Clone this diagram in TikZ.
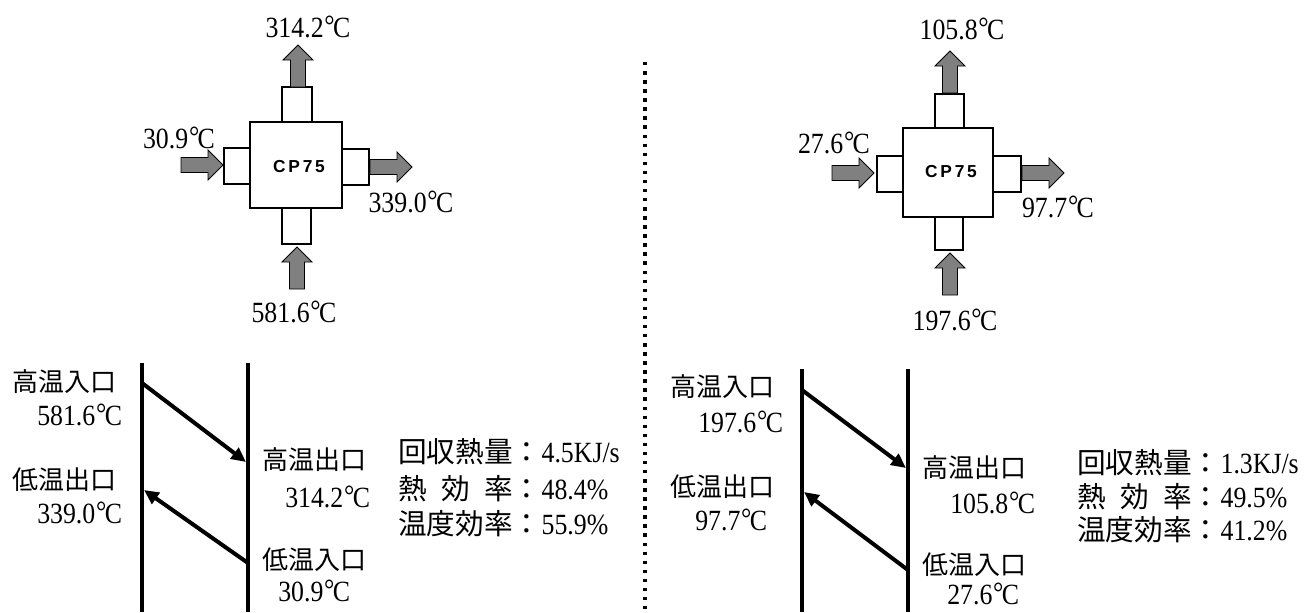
\documentclass[tikz,border=0pt]{standalone}
\usepackage{fontspec}
\setmainfont[FakeStretch=0.88]{Liberation Serif}
\newfontfamily\cjk{Noto Sans CJK JP}
\newfontfamily\cpfont[LetterSpace=16]{Liberation Sans}
\usetikzlibrary{arrows.meta}
\newcommand\degC{\kern0.6pt\raisebox{0.05em}{°}\kern-1.2pt C}
\tikzset{
 lbl/.style={inner sep=0pt, font=\fontsize{22pt}{26pt}\selectfont},
 jl/.style={inner sep=0pt, anchor=west, font=\fontsize{19.5pt}{24pt}\selectfont\cjk},
 nl/.style={inner sep=0pt, anchor=west, font=\fontsize{22pt}{26pt}\selectfont},
 stat/.style={inner sep=0pt, anchor=west, font=\fontsize{22pt}{26pt}\selectfont},
 unit/.style={draw, line width=1.1pt, fill=white},
 flow/.style={line width=3pt},
 hx/.style={line width=3pt, -{Triangle[length=11pt,width=10pt]}},
 sepline/.style={line width=2.6pt, dash pattern=on 2.6pt off 4.2pt},
 cp/.style={font=\fontsize{13pt}{15pt}\selectfont\cpfont\bfseries, inner sep=0pt},
 pics/barrow/.style={code={\draw[fill=black!50, line width=0.6pt] (0,-7.5)--(27,-7.5)--(27,-15)--(42,0)--(27,15)--(27,7.5)--(0,7.5)--cycle;}}
}
\begin{document}
\begin{tikzpicture}[x=0.75pt,y=-0.75pt]
\useasboundingbox (0,0) rectangle (1311,612);

% ---------- left unit ----------
\draw[unit] (282,87) rectangle (312,122);
\draw[unit] (282,208) rectangle (311,244);
\draw[unit] (224,148) rectangle (250,184);
\draw[unit] (342,149) rectangle (369,185);
\draw[unit] (250,122) rectangle (342,208);
\node[cp] (cpL) at (299,167) {CP75};
\pic[rotate=90] at (298,87) {barrow};
\pic[rotate=90] at (297,289) {barrow};
\pic at (181,165) {barrow};
\pic at (370,167) {barrow};
\node[lbl] (tL1) at (308,27) {314.2\degC};
\node[lbl] (tL2) at (179,138) {30.9\degC};
\node[lbl] (tL3) at (411,202) {339.0\degC};
\node[lbl] (tL4) at (294,312) {581.6\degC};

% ---------- right unit ----------
\draw[unit] (935,94) rectangle (964,128);
\draw[unit] (935,217) rectangle (963,250);
\draw[unit] (877,156) rectangle (903,192);
\draw[unit] (993,156) rectangle (1021,192);
\draw[unit] (903,128) rectangle (993,217);
\node[cp] (cpR) at (951,172) {CP75};
\pic[rotate=90] at (950,93) {barrow};
\pic[rotate=90] at (950,295) {barrow};
\pic at (832,173) {barrow};
\pic at (1022,173) {barrow};
\node[lbl] (tR1) at (962,29) {105.8\degC};
\node[lbl] (tR2) at (834,143) {27.6\degC};
\node[lbl] (tR3) at (1058,207) {97.7\degC};
\node[lbl] (tR4) at (955,320) {197.6\degC};

% ---------- separator ----------
\coordinate (sepT) at (645,62);
\coordinate (sepB) at (645,612);
\draw[sepline] (sepT) -- (sepB);

% ---------- left heat-exchange diagram ----------
\coordinate (L1t) at (142,363); \coordinate (L1b) at (142,612);
\coordinate (L2t) at (248,363); \coordinate (L2b) at (248,612);
\draw[flow] (L1t) -- (L1b);
\draw[flow] (L2t) -- (L2b);
\coordinate (La1s) at (142,383); \coordinate (La1e) at (246,462);
\coordinate (La2s) at (248,563); \coordinate (La2e) at (144,490);
\draw[hx] (La1s) -- (La1e);
\draw[hx] (La2s) -- (La2e);
\node[jl] (bL1) at (12,382) {高温入口};
\node[nl] (bL2) at (37,415) {581.6\degC};
\node[jl] (bL3) at (12,480) {低温出口};
\node[nl] (bL4) at (37,513) {339.0\degC};
\node[jl] (bL5) at (262,460) {高温出口};
\node[nl] (bL6) at (285,497) {314.2\degC};
\node[jl] (bL7) at (262,560) {低温入口};
\node[nl] (bL8) at (278,591) {30.9\degC};
\node[stat] (sL1) at (398,452) {{\cjk\fontsize{21.5pt}{26pt}\selectfont 回収熱量：}4.5KJ/s};
\node[stat] (sL2) at (398,489) {{\cjk\fontsize{21.5pt}{26pt}\selectfont\hbox to 4em{熱\hfil 効\hfil 率}：}48.4\%};
\node[stat] (sL3) at (398,524) {{\cjk\fontsize{21.5pt}{26pt}\selectfont 温度効率：}55.9\%};

% ---------- right heat-exchange diagram ----------
\coordinate (R1t) at (802,369); \coordinate (R1b) at (802,612);
\coordinate (R2t) at (908,369); \coordinate (R2b) at (908,612);
\draw[flow] (R1t) -- (R1b);
\draw[flow] (R2t) -- (R2b);
\coordinate (Ra1s) at (802,390); \coordinate (Ra1e) at (906,468);
\coordinate (Ra2s) at (908,570); \coordinate (Ra2e) at (804,492);
\draw[hx] (Ra1s) -- (Ra1e);
\draw[hx] (Ra2s) -- (Ra2e);
\node[jl] (bR1) at (670,387) {高温入口};
\node[nl] (bR2) at (698,422) {197.6\degC};
\node[jl] (bR3) at (670,487) {低温出口};
\node[nl] (bR4) at (695,520) {97.7\degC};
\node[jl] (bR5) at (922,468) {高温出口};
\node[nl] (bR6) at (950,503) {105.8\degC};
\node[jl] (bR7) at (922,565) {低温入口};
\node[nl] (bR8) at (947,594) {27.6\degC};
\node[stat] (sR1) at (1077,463) {{\cjk\fontsize{21.5pt}{26pt}\selectfont 回収熱量：}1.3KJ/s};
\node[stat] (sR2) at (1077,497) {{\cjk\fontsize{21.5pt}{26pt}\selectfont\hbox to 4em{熱\hfil 効\hfil 率}：}49.5\%};
\node[stat] (sR3) at (1077,530) {{\cjk\fontsize{21.5pt}{26pt}\selectfont 温度効率：}41.2\%};
\end{tikzpicture}
\end{document}
